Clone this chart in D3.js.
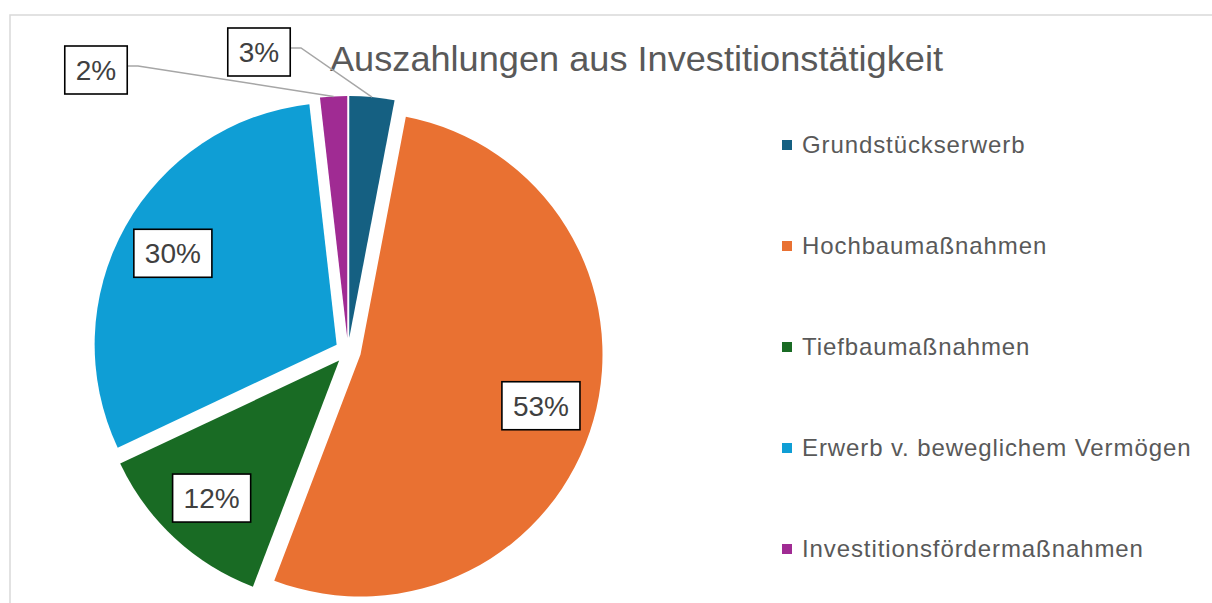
<!DOCTYPE html>
<html>
<head>
<meta charset="utf-8">
<script src="https://cdn.jsdelivr.net/npm/d3@7"></script>
<style>
  body { margin: 0; background: #fff; }
  svg { display: block; }
</style>
</head>
<body>
<div id="chart"></div>
<script>
// categories and shares (percent), clockwise from 12 o'clock
const categories = ['Grundstückserwerb', 'Hochbaumaßnahmen', 'Tiefbaumaßnahmen', 'Erwerb v. beweglichem Vermögen', 'Investitionsfördermaßnahmen'];
const values = [3.0, 52.8, 12.2, 30.2, 1.8];
const labels = ['3%', '53%', '12%', '30%', '2%'];
const colors = ['#156082', '#E97132', '#196B24', '#0F9ED5', '#A02B93'];

const width = 1212, height = 603;
const cx = 348, cy = 351, R = 242, explode = 13;

let svg = d3.select('#chart').append('svg')
    .attr('width', width)
    .attr('height', height);

// chart area border
svg.append('rect')
    .attr('x', 10).attr('y', 15)
    .attr('width', width + 20).attr('height', height + 20)
    .attr('fill', 'none')
    .attr('stroke', '#d9d9d9')
    .attr('stroke-width', 1.5);

let pie = d3.pie().sort(null).value(d => d)(values);
let arc = d3.arc().innerRadius(0).outerRadius(R);

function midAngle(d) { return (d.startAngle + d.endAngle) / 2; }
function offset(d, r) {
    let a = midAngle(d);
    return [Math.sin(a) * r, -Math.cos(a) * r];
}

let slices = svg.append('g')
    .attr('transform', `translate(${cx},${cy})`)
    .selectAll('path')
    .data(pie)
    .enter().append('path')
    .attr('d', arc)
    .attr('fill', (d, i) => colors[i])
    .attr('transform', d => {
        let o = offset(d, explode);
        return `translate(${o[0]},${o[1]})`;
    });

// title
svg.append('text')
    .attr('x', 330).attr('y', 71)
    .attr('font-family', 'Liberation Sans, Arial, sans-serif')
    .attr('font-size', 35)
    .attr('fill', '#595959')
    .attr('textLength', 613)
    .attr('lengthAdjust', 'spacingAndGlyphs')
    .text('Auszahlungen aus Investitionstätigkeit');

// data labels: inside for big slices, outside with leader line for small ones
const outside = { 0: [259, 52], 4: [96, 70] };
let labelG = svg.append('g');

pie.forEach((d, i) => {
    let o = offset(d, explode);
    let pos;
    if (outside[i]) {
        pos = outside[i];
        let tip = offset(d, R);
        let tx = cx + o[0] + tip[0], ty = cy + o[1] + tip[1];
        let bx = pos[0] + 30, by = pos[1] - 4;
        labelG.append('polyline')
            .attr('points', `${bx},${by} ${bx + 12},${by} ${tx},${ty}`)
            .attr('fill', 'none')
            .attr('stroke', '#a6a6a6')
            .attr('stroke-width', 1.5);
    } else {
        let c = offset(d, R * 0.775);
        pos = [cx + o[0] + c[0], cy + o[1] + c[1]];
    }
    let g = labelG.append('g').attr('transform', `translate(${pos[0]},${pos[1]})`);
    let rect = g.append('rect').attr('fill', '#fff').attr('stroke', '#000').attr('stroke-width', 1.6);
    let t = g.append('text')
        .attr('text-anchor', 'middle')
        .attr('dy', '0.36em')
        .attr('font-family', 'Liberation Sans, Arial, sans-serif')
        .attr('font-size', 28)
        .attr('fill', '#404040')
        .text(labels[i]);
    let w = t.node().getComputedTextLength() + 22;
    rect.attr('x', -w / 2).attr('y', -24).attr('width', w).attr('height', 48);
});

// legend
let legend = svg.append('g')
    .selectAll('g')
    .data(categories)
    .enter().append('g')
    .attr('transform', (d, i) => `translate(782,${145 + i * 101})`);

legend.append('rect')
    .attr('x', 0).attr('y', -5)
    .attr('width', 10).attr('height', 10)
    .attr('fill', (d, i) => colors[i]);

legend.append('text')
    .attr('x', 20).attr('y', 7.5)
    .attr('font-family', 'Liberation Sans, Arial, sans-serif')
    .attr('font-size', 24)
    .attr('letter-spacing', 0.9)
    .attr('fill', '#595959')
    .text(d => d);
</script>
</body>
</html>
